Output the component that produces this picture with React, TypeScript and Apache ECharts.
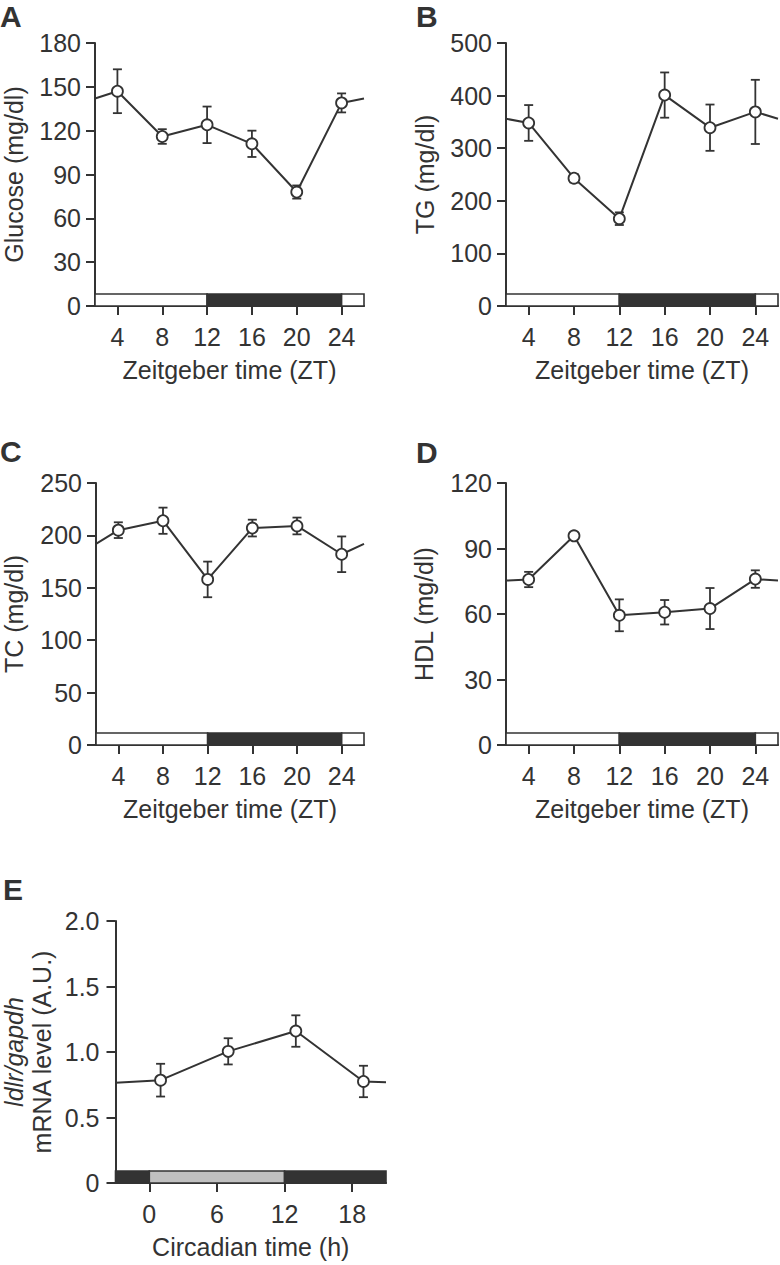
import React, { useEffect, useRef } from "react";
import * as echarts from "echarts";

// ---------- data ----------
const ztTimes = [4, 8, 12, 16, 20, 24];
const ztTickValues = [4, 8, 12, 16, 20, 24];
const ztRange = [2, 26];

const glucoseMean = [147, 116, 124, 111, 78, 139];
const glucoseSem = [15, 5, 12.5, 9, 4.5, 6.5];
const glucoseWrap = 142;

const tgMean = [348, 243, 166, 401, 339, 369];
const tgSem = [34, 8, 12, 43, 44, 61];
const tgWrap = 356;

const tcMean = [205, 214, 158, 207, 209, 182];
const tcSem = [7.5, 12.5, 17, 8, 8, 17];
const tcWrap = 192;

const hdlMean = [75.8, 95.8, 59.4, 60.8, 62.5, 76];
const hdlSem = [3.5, 1.5, 7.3, 5.6, 9.4, 4];
const hdlWrap = 75.3;

const ctTimes = [1, 7, 13, 19];
const ctTickValues = [0, 6, 12, 18];
const ctRange = [-3, 21];
const ldlrMean = [0.785, 1.005, 1.16, 0.775];
const ldlrSem = [0.125, 0.1, 0.12, 0.12];
const ldlrWrapLeft = 0.765;
const ldlrWrapRight = 0.77;

// light/dark phases
const ztPhaseStart = [2, 12, 24];
const ztPhaseEnd = [12, 24, 26];
const ztPhaseKind = ["light", "dark", "light"];
const ctPhaseStart = [-3, 0, 12];
const ctPhaseEnd = [0, 12, 21];
const ctPhaseKind = ["dark", "subjective", "dark"];

// ---------- styles ----------
const INK = "#333333";
const FONT = "'Liberation Sans', Arial, Helvetica, sans-serif";
const FS = 25;
const phaseColor: Record<string, string> = {
  light: "#ffffff",
  dark: "#333333",
  subjective: "#c0c0c0",
};

type Panel = {
  letter: string;
  grid: { left: number; top: number; width: number; height: number };
  xRange: number[];
  xTicks: number[];
  xName: string;
  yMax: number;
  yInterval: number;
  yName: string;
  yNameGap: number;
  yLabelMargin: number;
  yFormatter?: (v: number) => string;
  yRich?: any;
  times: number[];
  mean: number[];
  sem: number[];
  wrapLeft: number;
  wrapRight: number;
  phaseStart: number[];
  phaseEnd: number[];
  phaseKind: string[];
};

const panels: Panel[] = [
  {
    letter: "A",
    grid: { left: 91, top: 43, width: 273, height: 263 },
    xRange: ztRange, xTicks: ztTickValues, xName: "Zeitgeber time (ZT)",
    yMax: 180, yInterval: 30, yName: "Glucose (mg/dl)", yNameGap: 69, yLabelMargin: 14,
    times: ztTimes, mean: glucoseMean, sem: glucoseSem,
    wrapLeft: glucoseWrap, wrapRight: glucoseWrap,
    phaseStart: ztPhaseStart, phaseEnd: ztPhaseEnd, phaseKind: ztPhaseKind,
  },
  {
    letter: "B",
    grid: { left: 506, top: 43, width: 272, height: 263 },
    xRange: ztRange, xTicks: ztTickValues, xName: "Zeitgeber time (ZT)",
    yMax: 500, yInterval: 100, yName: "TG (mg/dl)", yNameGap: 69, yLabelMargin: 14,
    times: ztTimes, mean: tgMean, sem: tgSem,
    wrapLeft: tgWrap, wrapRight: tgWrap,
    phaseStart: ztPhaseStart, phaseEnd: ztPhaseEnd, phaseKind: ztPhaseKind,
  },
  {
    letter: "C",
    grid: { left: 91, top: 483, width: 273, height: 262 },
    xRange: ztRange, xTicks: ztTickValues, xName: "Zeitgeber time (ZT)",
    yMax: 250, yInterval: 50, yName: "TC (mg/dl)", yNameGap: 70, yLabelMargin: 14,
    times: ztTimes, mean: tcMean, sem: tcSem,
    wrapLeft: tcWrap, wrapRight: tcWrap,
    phaseStart: ztPhaseStart, phaseEnd: ztPhaseEnd, phaseKind: ztPhaseKind,
  },
  {
    letter: "D",
    grid: { left: 506, top: 483, width: 272, height: 262 },
    xRange: ztRange, xTicks: ztTickValues, xName: "Zeitgeber time (ZT)",
    yMax: 120, yInterval: 30, yName: "HDL (mg/dl)", yNameGap: 70, yLabelMargin: 14,
    times: ztTimes, mean: hdlMean, sem: hdlSem,
    wrapLeft: hdlWrap, wrapRight: hdlWrap,
    phaseStart: ztPhaseStart, phaseEnd: ztPhaseEnd, phaseKind: ztPhaseKind,
  },
  {
    letter: "E",
    grid: { left: 113, top: 921, width: 273, height: 262 },
    xRange: ctRange, xTicks: ctTickValues, xName: "Circadian time (h)",
    yMax: 2, yInterval: 0.5,
    yName: "{it|ldlr/gapdh}\n{rg|mRNA level (A.U.)}", yNameGap: 60, yLabelMargin: 16,
    yFormatter: (v: number) => (v === 0 ? "0" : v.toFixed(1)),
    yRich: {
      it: { fontStyle: "italic", fontSize: FS, lineHeight: 28, color: INK, fontFamily: FONT },
      rg: { fontSize: FS, lineHeight: 28, color: INK, fontFamily: FONT },
    },
    times: ctTimes, mean: ldlrMean, sem: ldlrSem,
    wrapLeft: ldlrWrapLeft, wrapRight: ldlrWrapRight,
    phaseStart: ctPhaseStart, phaseEnd: ctPhaseEnd, phaseKind: ctPhaseKind,
  },
];

function buildOption() {
  const grid: any[] = [];
  const xAxis: any[] = [];
  const yAxis: any[] = [];
  const series: any[] = [];
  const graphic: any[] = [];

  panels.forEach((p, gi) => {
    grid.push({ ...p.grid, containLabel: false });
    xAxis.push({
      type: "value",
      gridIndex: gi,
      min: p.xRange[0],
      max: p.xRange[1],
      name: p.xName,
      nameLocation: "middle",
      nameGap: 51,
      nameTextStyle: { fontSize: FS, color: INK, fontFamily: FONT },
      axisLine: { show: true, onZero: true, lineStyle: { color: INK, width: 2 } },
      axisTick: {
        show: true,
        length: 9,
        customValues: p.xTicks,
        lineStyle: { color: INK, width: 2 },
      },
      axisLabel: {
        show: true,
        customValues: p.xTicks,
        fontSize: FS,
        color: INK,
        fontFamily: FONT,
        margin: 18,
      },
      splitLine: { show: false },
    });
    yAxis.push({
      type: "value",
      gridIndex: gi,
      min: 0,
      max: p.yMax,
      interval: p.yInterval,
      name: p.yName,
      nameLocation: "middle",
      nameGap: p.yNameGap,
      nameTextStyle: {
        fontSize: FS,
        color: INK,
        fontFamily: FONT,
        ...(p.yRich ? { rich: p.yRich } : {}),
      },
      axisLine: { show: true, onZero: false, lineStyle: { color: INK, width: 2 } },
      axisTick: { show: true, length: 9, lineStyle: { color: INK, width: 2 } },
      axisLabel: {
        fontSize: FS,
        color: INK,
        fontFamily: FONT,
        margin: p.yLabelMargin,
        ...(p.yFormatter ? { formatter: p.yFormatter } : {}),
      },
      splitLine: { show: false },
    });

    // light/dark bar
    const kinds = p.phaseKind;
    series.push({
      type: "custom",
      xAxisIndex: gi,
      yAxisIndex: gi,
      z: 1,
      silent: true,
      data: p.phaseStart.map((s, i) => [s, p.phaseEnd[i], 0]),
      encode: { x: [0, 1], y: 2 },
      renderItem: (params: any, api: any) => {
        const a = api.coord([api.value(0), 0]);
        const b = api.coord([api.value(1), 0]);
        return {
          type: "rect",
          shape: { x: a[0], y: a[1] - 12, width: b[0] - a[0], height: 12 },
          style: { fill: phaseColor[kinds[params.dataIndex]], stroke: INK, lineWidth: 1.6 },
        };
      },
    });

    // connecting line with wrap-around ends
    const lineData: number[][] = [[p.xRange[0], p.wrapLeft]];
    p.times.forEach((t, i) => lineData.push([t, p.mean[i]]));
    lineData.push([p.xRange[1], p.wrapRight]);
    series.push({
      type: "line",
      xAxisIndex: gi,
      yAxisIndex: gi,
      z: 2,
      data: lineData,
      showSymbol: false,
      symbol: "none",
      lineStyle: { color: INK, width: 2 },
      silent: true,
    });

    // error bars
    series.push({
      type: "custom",
      xAxisIndex: gi,
      yAxisIndex: gi,
      z: 3,
      silent: true,
      data: p.times.map((t, i) => [t, p.mean[i] - p.sem[i], p.mean[i] + p.sem[i]]),
      encode: { x: 0, y: [1, 2] },
      renderItem: (_params: any, api: any) => {
        const lo = api.coord([api.value(0), api.value(1)]);
        const hi = api.coord([api.value(0), api.value(2)]);
        const w = 4.5;
        const st = { stroke: INK, lineWidth: 1.8 };
        return {
          type: "group",
          children: [
            { type: "line", shape: { x1: hi[0], y1: hi[1], x2: lo[0], y2: lo[1] }, style: st },
            { type: "line", shape: { x1: hi[0] - w, y1: hi[1], x2: hi[0] + w, y2: hi[1] }, style: st },
            { type: "line", shape: { x1: lo[0] - w, y1: lo[1], x2: lo[0] + w, y2: lo[1] }, style: st },
          ],
        };
      },
    });

    // markers
    series.push({
      type: "scatter",
      xAxisIndex: gi,
      yAxisIndex: gi,
      z: 4,
      data: p.times.map((t, i) => [t, p.mean[i]]),
      symbol: "circle",
      symbolSize: 11,
      itemStyle: { color: "#ffffff", borderColor: INK, borderWidth: 1.8, opacity: 1 },
      silent: true,
    });
  });

  const letterPos = [
    { l: "A", x: 0, y: 16 },
    { l: "B", x: 416, y: 16 },
    { l: "C", x: 0, y: 451 },
    { l: "D", x: 416, y: 452 },
    { l: "E", x: 3, y: 889 },
  ];
  letterPos.forEach((lp) => {
    graphic.push({
      type: "text",
      x: lp.x,
      y: lp.y,
      style: {
        text: lp.l,
        fontSize: 30,
        fontWeight: "bold",
        fill: INK,
        fontFamily: FONT,
        align: "left",
        verticalAlign: "middle",
      },
    });
  });

  return {
    animation: false,
    backgroundColor: "#ffffff",
    grid,
    xAxis,
    yAxis,
    series,
    graphic,
  };
}

export default function App() {
  const ref = useRef<HTMLDivElement>(null);
  useEffect(() => {
    if (!ref.current) return;
    const chart = echarts.init(ref.current, undefined, { renderer: "svg" });
    chart.setOption(buildOption() as any);
    return () => chart.dispose();
  }, []);
  return (
    <div
      ref={ref}
      style={{ position: "absolute", left: 0, top: 0, width: 780, height: 1265 }}
    />
  );
}
